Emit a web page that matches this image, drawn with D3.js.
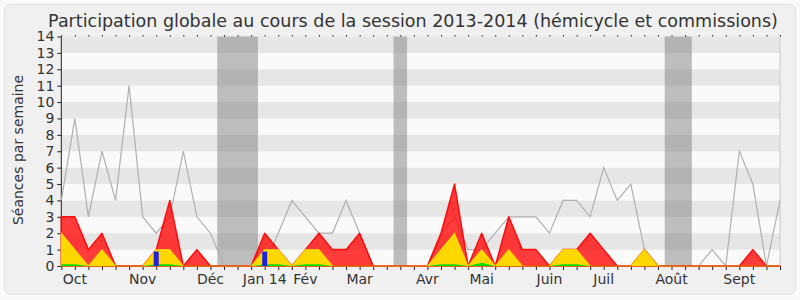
<!DOCTYPE html>
<meta charset="utf-8">
<style>

body {
  margin: 0;
  background: #fafafa;
}

text {
  font-family: "DejaVu Sans", sans-serif;
  fill: #333;
}

</style>
<svg></svg>
<script src="https://d3js.org/d3.v7.min.js"></script>
<script>

var width = 800,
    height = 300;

// one value per week, from the start of October 2013 to the end of September 2014
var commission = [3,3,1,2,0,0,0,1,4,0,1,0,0,0,0,2,1,0,1,2,1,1,2,0,0,0,0,0,2,5,0,2,0,3,1,1,0,1,1,2,1,0,0,1,0,0,0,0,0,0,0,1,0,0];
var hemicycle  = [2,1,0,1,0,0,0,1,1,0,0,0,0,0,0,1,1,0,1,1,0,0,0,0,0,0,0,0,1,2,0,1,0,1,0,0,0,1,1,0,0,0,0,1,0,0,0,0,0,0,0,0,0,0];
var interventions = [0.1,0.1,0,0,0,0,0,0.1,0.1,0,0,0,0,0,0,0.1,0.1,0,0.1,0.1,0,0,0,0,0,0,0,0,0.1,0.1,0,0.2,0,0,0,0,0,0.1,0.1,0,0,0,0,0,0,0,0,0,0,0,0,0,0,0];
var questions  = [0,0,0,0,0,0,0,1,0,0,0,0,0,0,0,1,0,0,0,0,0,0,0,0,0,0,0,0,0,0,0,0,0,0,0,0,0,0,0,0,0,0,0,0,0,0,0,0,0,0,0,0,0,0];
var median     = [4,9,3,7,4,11,3,2,3,7,3,2,0,0,0,0,2,4,3,2,2,4,2,0,0,0,0,0,2,3,1,1,2,3,3,3,2,4,4,3,6,4,5,1,0,0,0,0,1,0,7,5,0,4];

// holidays, in weeks
var vacStart = [11.5, 24.5, 44.5],
    vacEnd   = [14.5, 25.5, 46.5];

var monthLabels = ["Oct","Nov","Déc","Jan 14","Fév","Mar","Avr","Mai","Juin","Juil","Août","Sept"];
var monthWeeks  = [1, 6, 11, 15, 18, 22, 27, 31, 36, 40, 45, 50];

var yTicks = d3.range(0, 15);

var svg = d3.select("svg")
    .attr("width", width)
    .attr("height", height);

svg.append("rect")
    .attr("x", 4.5).attr("y", 4.5)
    .attr("width", 791).attr("height", 290)
    .attr("rx", 6)
    .attr("fill", "#f0f0f0")
    .attr("stroke", "#e2e2e2");

var x = d3.scaleLinear()
    .domain([0, median.length - 1])
    .range([61.3, 780]);

var y = d3.scaleLinear()
    .domain([0, 14])
    .range([266, 36.5]);

// striped background
svg.append("g").selectAll("rect")
    .data(d3.range(0, 14))
  .enter().append("rect")
    .attr("x", x(0))
    .attr("y", function(d) { return y(d + 1); })
    .attr("width", x(53) - x(0))
    .attr("height", function(d) { return y(d) - y(d + 1); })
    .attr("fill", function(d) { return d % 2 ? "#e6e6e6" : "#fafafa"; });

svg.append("g").selectAll("rect")
    .data(vacStart)
  .enter().append("rect")
    .attr("x", function(d) { return x(d); })
    .attr("y", y(14))
    .attr("width", function(d, i) { return x(vacEnd[i]) - x(d); })
    .attr("height", y(0) - y(14))
    .attr("fill", "#808080")
    .attr("fill-opacity", 0.5);

svg.append("line")
    .attr("x1", x(53)).attr("x2", x(53))
    .attr("y1", y(14)).attr("y2", y(0))
    .attr("stroke", "#c8c8c8");

// axes
var xAxis = svg.append("g")
    .attr("transform", "translate(0," + y(0) + ")")
    .call(d3.axisBottom(x).ticks(53).tickSize(4).tickFormat(""));
xAxis.select(".domain").attr("stroke", "#222").attr("d", "M" + x(0) + ",0H" + x(53));
xAxis.selectAll(".tick line").attr("stroke", "#222");

var topAxis = svg.append("g")
    .attr("transform", "translate(0," + y(14) + ")")
    .call(d3.axisTop(x).ticks(53).tickSize(1.5).tickFormat(""));
topAxis.select(".domain").remove();
topAxis.selectAll(".tick line").attr("stroke", "#222");

var yAxis = svg.append("g")
    .attr("transform", "translate(" + x(0) + ",0)")
    .call(d3.axisLeft(y).tickValues(yTicks).tickSize(4).tickPadding(3));
yAxis.select(".domain").attr("stroke", "#222").attr("d", "M0," + y(0) + "V" + y(14));
yAxis.selectAll(".tick line").attr("stroke", "#222");
yAxis.selectAll(".tick text")
    .style("font-family", "DejaVu Sans")
    .style("font-size", "14px")
    .attr("fill", "#333");

svg.append("g").selectAll("text")
    .data(monthLabels)
  .enter().append("text")
    .attr("x", function(d, i) { return x(monthWeeks[i]); })
    .attr("y", 284)
    .attr("text-anchor", "middle")
    .style("font-size", "14px")
    .text(function(d) { return d; });

svg.append("text")
    .attr("transform", "translate(23,150) rotate(-90)")
    .attr("text-anchor", "middle")
    .style("font-size", "14px")
    .text("Séances par semaine");

svg.append("text")
    .attr("x", 413)
    .attr("y", 27)
    .attr("text-anchor", "middle")
    .style("font-size", "17.5px")
    .text("Participation globale au cours de la session 2013-2014 (hémicycle et commissions)");

// series
var line = d3.line()
    .x(function(d, i) { return x(i); })
    .y(function(d) { return y(d); });

var area = d3.area()
    .x(function(d, i) { return x(i); })
    .y0(y(0))
    .y1(function(d) { return y(d); });

svg.append("path")
    .attr("d", line(median))
    .attr("fill", "none")
    .attr("stroke", "#b0b0b0")
    .attr("stroke-width", 1.2);

svg.append("path")
    .attr("d", area(commission))
    .attr("fill", "rgba(255,0,0,0.76)")
    .attr("stroke", "#ff0000")
    .attr("stroke-opacity", 0.9)
    .attr("stroke-width", 1.5)
    .attr("stroke-linejoin", "round");

svg.append("path")
    .attr("d", area(hemicycle))
    .attr("fill", "#ffd700")
    .attr("stroke", "#ffee00")
    .attr("stroke-opacity", 0.6)
    .attr("stroke-width", 1.2);

svg.append("path")
    .attr("d", area(interventions))
    .attr("fill", "#00dd00");

svg.append("g").selectAll("rect")
    .data(questions.map(function(d, i) { return {week: i, value: d}; }).filter(function(d) { return d.value > 0; }))
  .enter().append("rect")
    .attr("x", function(d) { return x(d.week) - 2.5; })
    .attr("y", function(d) { return y(d.value * 0.88); })
    .attr("width", 5)
    .attr("height", function(d) { return y(0) - y(d.value * 0.88); })
    .attr("fill", "#2020e0");

</script>
